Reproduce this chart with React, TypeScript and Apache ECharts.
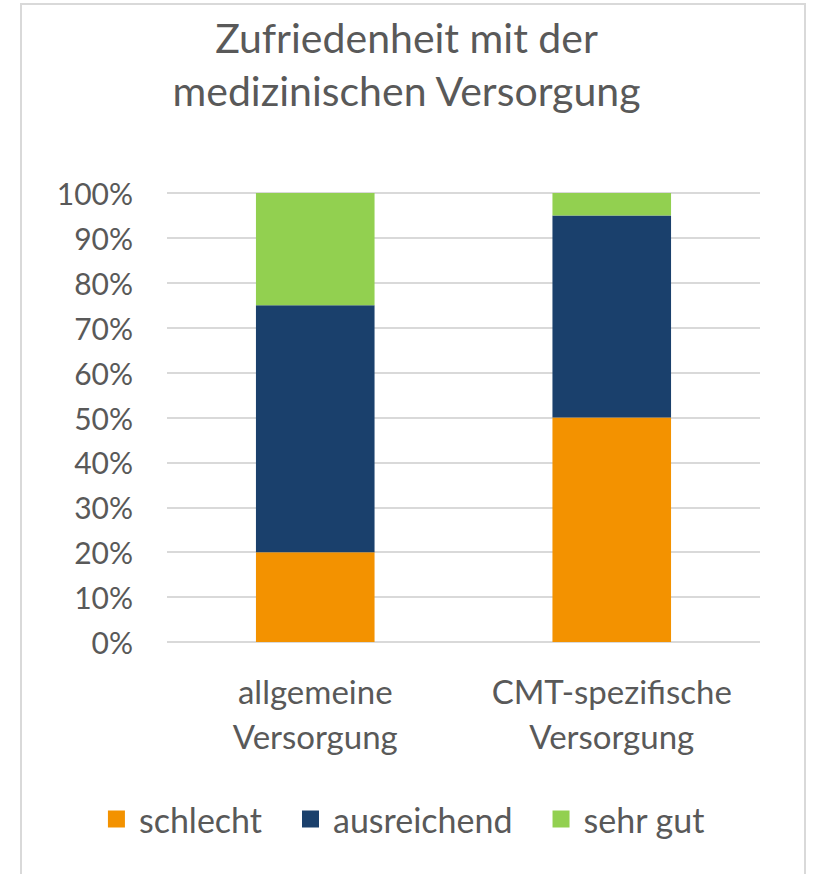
import React, { useEffect, useRef } from "react";
import * as echarts from "echarts";

const categories = ["allgemeine\nVersorgung", "CMT-spezifische\nVersorgung"];
const seriesNames = ["schlecht", "ausreichend", "sehr gut"];
const schlecht = [20, 50];
const ausreichend = [55, 45];
const sehrGut = [25, 5];
const colors = ["#F39200", "#1A406C", "#92D050"];
const titleText = "Zufriedenheit mit der\nmedizinischen Versorgung";

export default function App() {
  const ref = useRef<HTMLDivElement>(null);
  useEffect(() => {
    if (!ref.current) return;
    const chart = echarts.init(ref.current, null, { renderer: "svg" });
    const font = "Lato";
    const gray = "#595959";
    const data = [schlecht, ausreichend, sehrGut];
    chart.setOption({
      animation: false,
      backgroundColor: "#fff",
      textStyle: { fontFamily: font },
      graphic: [
        {
          type: "rect",
          shape: { x: 21, y: 4, width: 784, height: 900 },
          style: { fill: "none", stroke: "#d9d9d9", lineWidth: 2 },
          silent: true,
        },
      ],
      title: {
        text: titleText,
        left: "center",
        top: 6,
        textStyle: {
          fontFamily: font,
          fontSize: 41,
          fontWeight: "normal",
          color: gray,
          lineHeight: 53,
        },
      },
      legend: {
        top: 797,
        left: "center",
        itemWidth: 17,
        itemHeight: 17,
        itemGap: 40,
        icon: "rect",
        textStyle: { fontFamily: font, fontSize: 34, color: gray, padding: [0, 0, 0, 9] },
        data: seriesNames,
      },
      grid: { left: 167, right: 53, top: 193, bottom: 232, containLabel: false },
      xAxis: {
        type: "category",
        data: categories,
        axisLine: { show: false },
        axisTick: { show: false },
        axisLabel: {
          fontFamily: font,
          fontSize: 33,
          color: gray,
          lineHeight: 45,
          margin: 26,
          interval: 0,
        },
      },
      yAxis: {
        type: "value",
        min: 0,
        max: 100,
        interval: 10,
        axisLine: { show: false },
        axisTick: { show: false },
        splitLine: { lineStyle: { color: "#d9d9d9", width: 2 } },
        axisLabel: {
          fontFamily: font,
          fontSize: 30,
          color: gray,
          margin: 34,
          formatter: (v: number) => v + "%",
        },
      },
      series: seriesNames.map((name, i) => ({
        name,
        type: "bar",
        stack: "total",
        barWidth: "40%",
        data: data[i],
        itemStyle: { color: colors[i] },
      })),
    });
    return () => chart.dispose();
  }, []);
  return (
    <div
      ref={ref}
      style={{ position: "absolute", left: 0, top: 0, width: 813, height: 874 }}
    />
  );
}
